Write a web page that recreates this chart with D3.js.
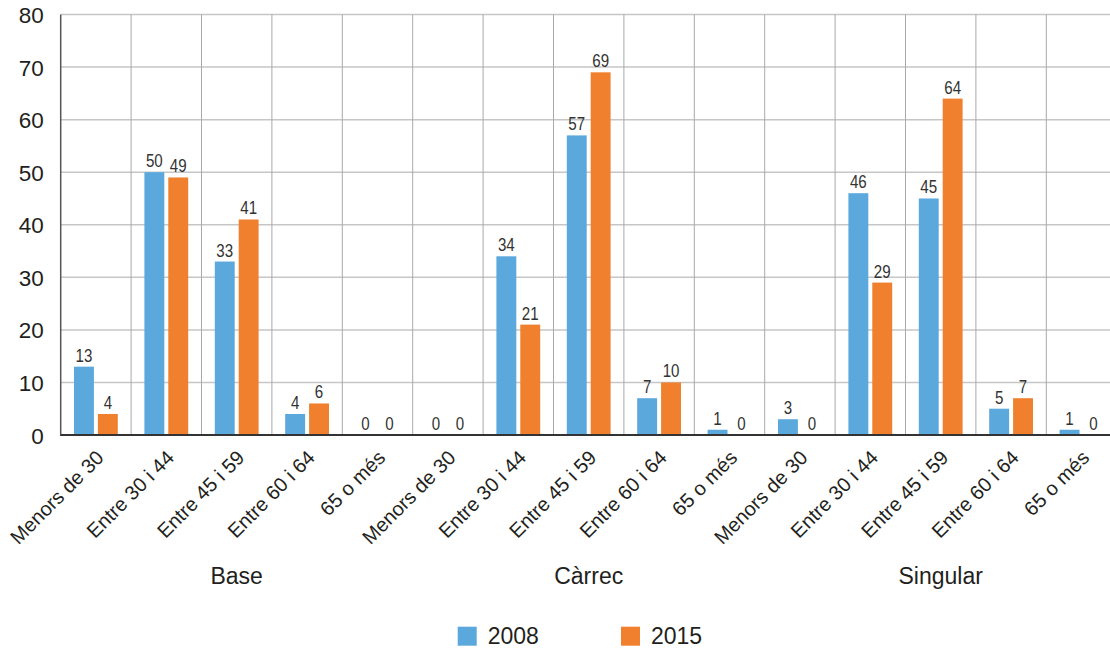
<!DOCTYPE html>
<html><head><meta charset="utf-8">
<script src="https://cdn.jsdelivr.net/npm/d3@7"></script>
<style>
html,body{margin:0;padding:0;background:#fff;}
svg{display:block;font-family:"Liberation Sans",Arial,Helvetica,sans-serif;}
</style></head>
<body>
<svg id="c" width="1110" height="648"></svg>
<script>
const groups = ["Base", "Càrrec", "Singular"];
const ages = ["Menors de 30", "Entre 30 i 44", "Entre 45 i 59", "Entre 60 i 64", "65 o més"];
const seriesNames = ["2008", "2015"];
const values2008 = [13, 50, 33, 4, 0,  0, 34, 57, 7, 1,  3, 46, 45, 5, 1];
const values2015 = [4, 49, 41, 6, 0,  0, 21, 69, 10, 0,  0, 29, 64, 7, 0];
const yTicks = [0, 10, 20, 30, 40, 50, 60, 70, 80];
const colors = ["#5ba8dc", "#f0802e"];

(function () {
const cats = [];
groups.forEach((g, gi) => ages.forEach((a, ai) => cats.push({key: g + "|" + a, group: g, age: a, i: gi * ages.length + ai})));

const svg = d3.select("#c");
const pL = 60.7, pR = 1116.7, pT = 14.5, pB = 435;

const x = d3.scaleBand().domain(cats.map(c => c.key)).range([pL, pR]).paddingInner(0).paddingOuter(0);
const step = x.step();
const xs = d3.scaleBand().domain(seriesNames).range([13.3, step - 13.3]).paddingInner(4 / 24).paddingOuter(0);
const y = d3.scaleLinear().domain([0, 80]).range([pB, pT]);

// horizontal gridlines
svg.append("g").selectAll("line").data(yTicks.filter(t => t > 0)).join("line")
  .attr("x1", pL).attr("x2", 1110).attr("y1", d => y(d)).attr("y2", d => y(d))
  .attr("stroke", "#c6c6c6").attr("stroke-width", 1.5);
// vertical gridlines
svg.append("g").selectAll("line").data(cats.slice(1)).join("line")
  .attr("x1", d => x(d.key)).attr("x2", d => x(d.key)).attr("y1", pT).attr("y2", pB)
  .attr("stroke", "#a9a9a9").attr("stroke-width", 1);

// y axis
const yAxis = d3.axisLeft(y).tickValues(yTicks).tickSize(0).tickPadding(17);
const ya = svg.append("g").attr("transform", `translate(${pL},0)`).call(yAxis);
ya.select(".domain").remove();
ya.selectAll("text").attr("font-size", 22.5).attr("fill", "#231f20").attr("font-family", "Liberation Sans, Arial, sans-serif").attr("dy", "0.36em");
svg.append("line").attr("x1", pL).attr("x2", pL).attr("y1", pT).attr("y2", pB + 1)
  .attr("stroke", "#555").attr("stroke-width", 1.5);

// bars
const data = [values2008, values2015];
const barG = svg.append("g");
seriesNames.forEach((s, si) => {
  barG.append("g").selectAll("rect").data(cats).join("rect")
    .attr("x", d => x(d.key) + xs(s))
    .attr("width", xs.bandwidth())
    .attr("y", d => y(data[si][d.i]))
    .attr("height", d => y(0) - y(data[si][d.i]))
    .attr("fill", colors[si]);
  barG.append("g").selectAll("text").data(cats).join("text")
    .attr("transform", d => `translate(${x(d.key) + xs(s) + xs.bandwidth() / 2},${y(data[si][d.i]) - 5}) scale(0.84,1)`)
    .attr("text-anchor", "middle")
    .attr("font-size", 18).attr("fill", "#333")
    .text(d => data[si][d.i]);
});

// x axis line
svg.append("line").attr("x1", pL).attr("x2", 1110).attr("y1", pB).attr("y2", pB)
  .attr("stroke", "#333").attr("stroke-width", 2);

// x category labels
const xAxis = d3.axisBottom(x).tickSize(0).tickFormat(k => k.split("|")[1]);
const xa = svg.append("g").attr("transform", `translate(0,${pB})`).call(xAxis);
xa.select(".domain").remove();
xa.selectAll("text")
  .attr("font-size", 20).attr("fill", "#231f20").attr("font-family", "Liberation Sans, Arial, sans-serif")
  .attr("text-anchor", "end").attr("dy", 0).attr("y", 0)
  .attr("transform", "translate(9,24) rotate(-45)");

// group labels
svg.append("g").selectAll("text").data(groups).join("text")
  .attr("x", (g, gi) => x(cats[gi * ages.length].key) + step * ages.length / 2)
  .attr("y", 584)
  .attr("text-anchor", "middle").attr("font-size", 23).attr("fill", "#231f20")
  .text(g => g);

// legend
const legX = [457.7, 621];
const lg = svg.append("g").selectAll("g").data(seriesNames).join("g")
  .attr("transform", (d, i) => `translate(${legX[i]},626.7)`);
lg.append("rect").attr("width", 19).attr("height", 19).attr("fill", (d, i) => colors[i]);
lg.append("text").attr("x", 30).attr("y", 17.5).attr("font-size", 23).attr("fill", "#231f20").text(d => d);
})();
</script>
</body></html>
